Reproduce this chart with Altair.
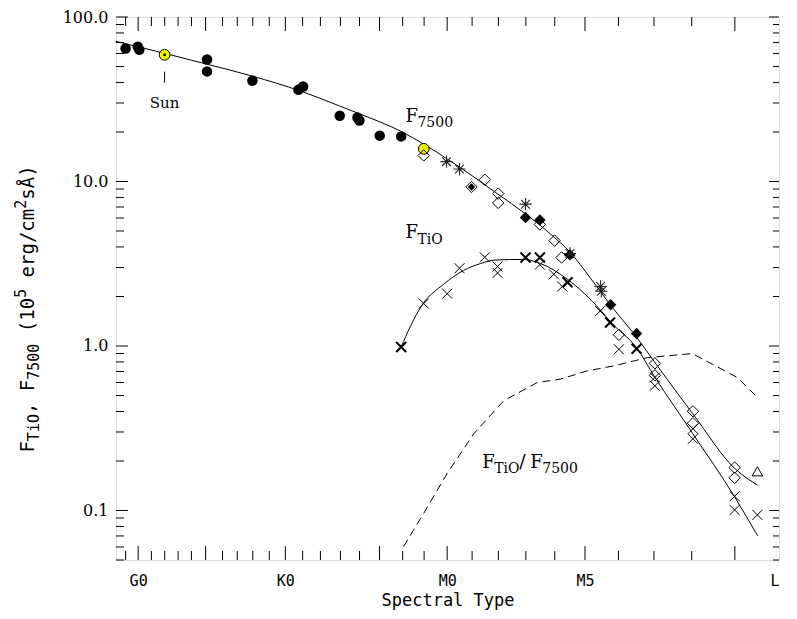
import altair as alt
import pandas as pd

# ---------------- axis definitions (x in frame units: 0 = left frame, 100 = right frame)
TICK_POS = [1.45, 3.34, 5.34, 7.35, 9.37, 11.38, 13.52, 16.07, 18.29, 20.63, 23.12,
            25.54, 28.15, 30.83, 33.85, 36.73, 39.75, 43.24, 46.47,
            49.95, 53.71, 57.67, 61.82, 66.18, 70.74, 75.78, 81.14, 86.84, 93.34, 100]
MAJOR_POS = [3.34, 13.52, 25.54, 39.75, 49.95, 70.74, 93.34]
LABEL_POS = [3.34, 25.54, 49.95, 70.74, 100]
LABEL_TXT = ["G0", "K0", "M0", "M5", "L"]

Y_TICKS = [0.05, 0.06, 0.07, 0.08, 0.09, 0.1, 0.2, 0.3, 0.4, 0.5, 0.6, 0.7, 0.8, 0.9,
           1, 2, 3, 4, 5, 6, 7, 8, 9, 10, 20, 30, 40, 50, 60, 70, 80, 90, 100]
Y_MAJOR = [0.1, 1, 10, 100]
Y_LABELS = ["0.1", "1.0", "10.0", "100.0"]

# ---------------- data
CIRC_U = [1.45, 3.29, 3.52, 13.73, 13.73, 20.57, 27.51, 28.22, 33.75, 36.42, 36.72, 39.78, 43.01]
CIRC_V = [64.3, 65.9, 63.2, 55.2, 46.7, 41.0, 36.1, 37.8, 25.1, 24.5, 23.5, 19.0, 18.8]

SUN_U = [7.33, 46.42]
SUN_V = [58.9, 15.8]

ODIAM_U = [46.42, 53.62, 55.63, 57.65, 57.65, 63.93, 66.15, 67.20, 75.85, 81.28, 81.28,
           87.02, 87.02, 93.31, 93.31]
ODIAM_V = [14.4, 9.26, 10.25, 8.44, 7.41, 5.48, 4.37, 3.45, 1.17, 0.784, 0.663,
           0.401, 0.339, 0.1824, 0.158]

FDIAM_U = [61.77, 63.93, 68.46, 74.60, 78.52]
FDIAM_V = [6.04, 5.83, 3.58, 1.78, 1.19]
INNER_U = [53.62]
INNER_V = [9.26]

AST_U = [49.85, 51.81, 61.77, 68.46, 73.09, 73.20]
AST_V = [13.2, 11.9, 7.28, 3.65, 2.30, 2.15]

XTHIN_U = [46.42, 49.95, 51.81, 55.63, 57.55, 57.55, 63.93, 66.04, 67.31, 73.02, 75.85,
           81.28, 81.28, 87.02, 87.02, 93.31, 93.31, 96.74]
XTHIN_V = [1.81, 2.08, 2.97, 3.46, 3.04, 2.78, 3.12, 2.73, 2.30, 1.63, 0.955,
           0.643, 0.573, 0.314, 0.273, 0.122, 0.1007, 0.094]

XTHICK_U = [43.01, 61.77, 63.93, 68.11, 74.52, 78.52]
XTHICK_V = [0.986, 3.45, 3.45, 2.44, 1.39, 0.963]

TRI_U = [96.74]
TRI_V = [0.173]

F7500_U = [0, 7.29, 13.78, 20.57, 27.81, 33.70, 36.72, 43.06, 46.38, 49.85, 53.77,
           57.55, 61.77, 66.15, 68.41, 71.58, 74.60, 78.52, 81.54, 86.98, 93.46, 96.78]
F7500_V = [71.1, 60.2, 51.6, 43.7, 35.5, 28.8, 25.8, 20.1, 16.9, 13.8, 10.8,
           8.41, 6.36, 4.56, 3.75, 2.58, 1.77, 1.13, 0.768, 0.388, 0.178, 0.1426]

FTIO_U = [43.01, 44.42, 46.23, 49.40, 52.42, 54.98, 57.24, 61.47, 64.04, 68.11, 73.09,
          74.60, 78.52, 81.24, 86.98, 93.31, 96.78]
FTIO_V = [0.986, 1.32, 1.79, 2.37, 2.88, 3.17, 3.33, 3.36, 3.17, 2.54, 1.65,
          1.40, 0.973, 0.650, 0.294, 0.121, 0.0701]

RATIO_U = [43.36, 46.42, 49.95, 53.97, 58.50, 63.54, 67.05, 71.08, 75.10, 80.14, 86.93,
           93.72, 96.74]
RATIO_V = [0.0602, 0.0962, 0.168, 0.293, 0.465, 0.600, 0.629, 0.706, 0.757, 0.850, 0.899,
           0.643, 0.487]

# label anchors (data units) and pieces: (text, dx, dy, size)
LBL_F7500 = (43.66, 22.88, [("F", 0, 0, 18), ("7500", 12, 5, 14)])
LBL_FTIO = (43.66, 4.556, [("F", 0, 0, 18), ("TiO", 12, 6, 14)])
LBL_RATIO = (55.24, 0.1806, [("F", 0, 0, 18), ("TiO", 12, 5, 14), ("/", 37, 0, 19),
                             ("F", 48, 0, 18), ("7500", 60, 5, 14)])
SUN_LABEL = (7.33, 27.8, "Sun")
SUN_TICK = (7.33, 46.5, 39.9)

# y title pieces: (text, dy, size, leading spaces)
Y_TITLE = [("F", 0, 19, 0), ("TiO", 5, 15, 0), (",", 0, 19, 0), ("F", 0, 19, 1),
           ("7500", 5, 15, 0), ("(10", 0, 19, 1), ("5", -8, 15, 0), ("erg/cm", 0, 19, 1),
           ("2", -8, 15, 0), ("sÅ)", 0, 19, 0)]

W, H = 663, 543
# tick lengths in px (inward): major / minor
XT_MAJ, XT_MIN = 14, 9
YT_MAJ, YT_MIN = 12, 8

# ---------------- scales & axes
xs = alt.Scale(domain=[0, 100], nice=False, zero=False)
ys = alt.Scale(type="log", domain=[0.05, 100], nice=False)

x_label_expr = " : ".join(f"datum.value == {v} ? '{t}'" for v, t in zip(LABEL_POS, LABEL_TXT)) + " : ''"
y_label_expr = " : ".join(f"datum.value == {v} ? '{t}'" for v, t in zip(Y_MAJOR, Y_LABELS)) + " : ''"
MINOR_POS = [p for p in TICK_POS if p not in MAJOR_POS and p < 100]
Y_MINOR = [v for v in Y_TICKS if v not in Y_MAJOR]

xa_lab = alt.Axis(grid=False, orient="bottom", values=LABEL_POS, ticks=False, domain=False,
                  labels=True, labelExpr=x_label_expr,
                  labelFont="DejaVu Sans Mono", labelFontSize=15, labelColor="black", labelPadding=13,
                  labelOverlap=False, labelFlush=True,
                  title="Spectral Type", titleFont="DejaVu Sans Mono", titleFontSize=17,
                  titleFontWeight="normal", titleColor="black", titlePadding=4)
ya_lab = alt.Axis(grid=False, orient="left", values=Y_MAJOR, ticks=False, domain=False,
                  labels=True, labelExpr=y_label_expr, labelFont="DejaVu Serif", labelFontSize=16,
                  labelColor="black", labelPadding=8, labelOverlap=False, title=None)


def df(u, v):
    return pd.DataFrame({"u": u, "v": v})


def xy(xa=None, ya=None):
    return dict(x=alt.X("u:Q", scale=xs, axis=xa), y=alt.Y("v:Q", scale=ys, axis=ya))


layers = []
layers.append(alt.Chart(df(F7500_U, F7500_V)).mark_line(color="black", strokeWidth=1, interpolate="monotone")
              .encode(**xy(xa_lab, ya_lab), order="u:Q"))
layers.append(alt.Chart(df(FTIO_U, FTIO_V)).mark_line(color="black", strokeWidth=1, interpolate="monotone")
              .encode(**xy(), order="u:Q"))
layers.append(alt.Chart(df(RATIO_U, RATIO_V)).mark_line(color="black", strokeWidth=1, strokeDash=[8, 5])
              .encode(**xy(), order="u:Q"))

# inward ticks on all four sides, placed through the scales
tick = dict(color="black", strokeWidth=1)
for vals, ln in ((MAJOR_POS, XT_MAJ), (MINOR_POS, XT_MIN)):
    d = pd.DataFrame({"u": vals})
    layers.append(alt.Chart(d).mark_rule(**tick).encode(
        x=alt.X("u:Q", scale=xs, axis=None), y=alt.value(H), y2=alt.value(H - ln)))
    layers.append(alt.Chart(d).mark_rule(**tick).encode(
        x=alt.X("u:Q", scale=xs, axis=None), y=alt.value(0), y2=alt.value(ln)))
for vals, ln in ((Y_MAJOR, YT_MAJ), (Y_MINOR, YT_MIN)):
    d = pd.DataFrame({"v": vals})
    layers.append(alt.Chart(d).mark_rule(**tick).encode(
        y=alt.Y("v:Q", scale=ys, axis=None), x=alt.value(0), x2=alt.value(ln)))
    layers.append(alt.Chart(d).mark_rule(**tick).encode(
        y=alt.Y("v:Q", scale=ys, axis=None), x=alt.value(W), x2=alt.value(W - ln + 2)))

layers.append(alt.Chart(pd.DataFrame({"u": [SUN_TICK[0]], "v": [SUN_TICK[1]], "v2": [SUN_TICK[2]]}))
              .mark_rule(color="black", strokeWidth=1)
              .encode(**xy(), y2="v2:Q"))

pt = dict(opacity=1)
layers.append(alt.Chart(df(CIRC_U, CIRC_V)).mark_point(shape="circle", filled=True, size=110, color="black", **pt)
              .encode(**xy()))
layers.append(alt.Chart(df(SUN_U, SUN_V)).mark_point(shape="circle", filled=True, size=115, fill="#f4f400",
                                                    stroke="black", strokeWidth=1, **pt).encode(**xy()))
layers.append(alt.Chart(df(SUN_U[:1], SUN_V[:1])).mark_point(shape="square", filled=True, size=6, color="black", **pt)
              .encode(**xy()))
layers.append(alt.Chart(df(ODIAM_U, ODIAM_V)).mark_point(shape="diamond", filled=False, size=130, color="black",
                                                        strokeWidth=1, **pt).encode(**xy()))
layers.append(alt.Chart(df(FDIAM_U, FDIAM_V)).mark_point(shape="diamond", filled=True, size=130, color="black", **pt)
              .encode(**xy()))
layers.append(alt.Chart(df(INNER_U, INNER_V)).mark_point(shape="diamond", filled=True, size=55, color="black", **pt)
              .encode(**xy()))
AST = "M0,-1L0,1M-1,0L1,0M-0.71,-0.71L0.71,0.71M-0.71,0.71L0.71,-0.71"
layers.append(alt.Chart(df(AST_U, AST_V)).mark_point(shape=AST, filled=False, size=150, color="#222",
                                                    strokeWidth=1.1, **pt).encode(**xy()))
XS = "M-1,-1L1,1M-1,1L1,-1"
layers.append(alt.Chart(df(XTHIN_U, XTHIN_V)).mark_point(shape=XS, filled=False, size=100, color="black",
                                                        strokeWidth=1, **pt).encode(**xy()))
layers.append(alt.Chart(df(XTHICK_U, XTHICK_V)).mark_point(shape=XS, filled=False, size=100, color="black",
                                                          strokeWidth=2, **pt).encode(**xy()))
layers.append(alt.Chart(df(TRI_U, TRI_V)).mark_point(shape="triangle-up", filled=False, size=110, color="black",
                                                    strokeWidth=1, **pt).encode(**xy()))

# in-plot labels
for (u0, v0, pieces) in (LBL_F7500, LBL_FTIO, LBL_RATIO):
    for (txt, dx, dy, fs) in pieces:
        layers.append(alt.Chart(pd.DataFrame({"u": [u0], "v": [v0], "t": [txt]}))
                      .mark_text(align="left", baseline="alphabetic", dx=dx, dy=dy, fontSize=fs,
                                 font="DejaVu Serif", color="black")
                      .encode(**xy(), text="t:N"))
layers.append(alt.Chart(pd.DataFrame({"u": [SUN_LABEL[0]], "v": [SUN_LABEL[1]], "t": [SUN_LABEL[2]]}))
              .mark_text(align="center", baseline="alphabetic", fontSize=15, font="DejaVu Serif", color="black")
              .encode(**xy(), text="t:N"))

# rotated y-axis title built from pieces (monospace advance 0.602 em)
ADV = 0.602
total = sum((len(t) + sp) * ADV * fs for t, _, fs, sp in Y_TITLE)
start_y = 292 + total / 2
pos = 0.0
for (txt, dy, fs, sp) in Y_TITLE:
    pos += sp * ADV * fs
    layers.append(alt.Chart(pd.DataFrame({"t": [txt]}))
                  .mark_text(align="left", baseline="alphabetic", angle=270, dx=pos, dy=dy, fontSize=fs,
                             font="DejaVu Sans Mono", color="black")
                  .encode(x=alt.value(-82), y=alt.value(start_y), text="t:N"))
    pos += len(txt) * ADV * fs

chart = (alt.layer(*layers)
         .resolve_axis(x="independent", y="independent")
         .properties(width=W, height=H,
                     autosize=alt.AutoSizeParams(type="none"),
                     padding={"left": 108, "top": 9, "right": 10, "bottom": 55})
         .configure_view(stroke="black", strokeWidth=1)
         .configure(background="white"))

chart.save("out.html", embed_options={"renderer": "svg", "actions": False})
